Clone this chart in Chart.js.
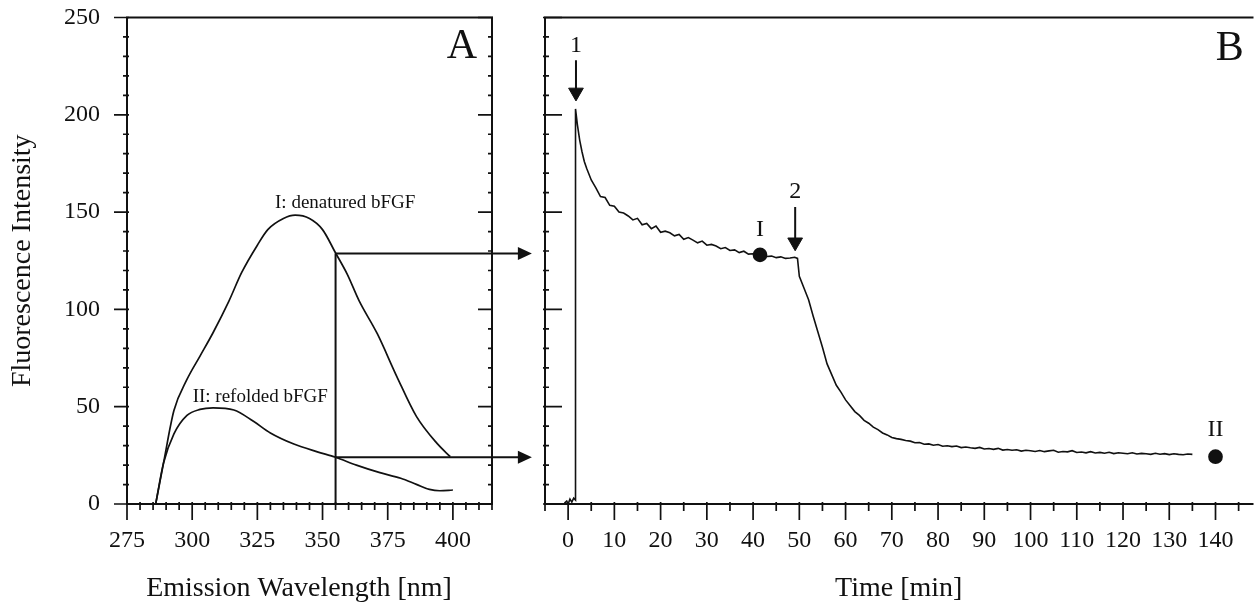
<!DOCTYPE html>
<html>
<head>
<meta charset="utf-8">
<script src="https://cdn.jsdelivr.net/npm/chart.js@4.4.1/dist/chart.umd.min.js"></script>
<style>
  html, body { margin: 0; padding: 0; background: #fff; overflow: hidden; width: 1259px; height: 605px; }
  canvas { position: absolute; left: 0; top: 0; }
</style>
</head>
<body>
<canvas id="panelB" width="1262" height="605"></canvas>
<canvas id="panelA" width="560" height="605"></canvas>
<script>
// ---------------- Panel A data : emission spectra ----------------
const wavelengthTicks = [275, 300, 325, 350, 375, 400];
const intensityTicks  = [0, 50, 100, 150, 200, 250];

const denaturedNm  = [286, 289, 293, 298, 303, 308, 314, 319, 325, 329, 335, 339.5, 345, 350, 355, 359.5, 364, 371, 378.5, 386, 394, 399];
const denaturedVal = [0, 21, 48, 64, 76, 88, 104, 119, 133, 141, 146.7, 148.4, 146.7, 141, 129, 118, 104.5, 87.5, 65.5, 45, 31, 24.3];

const refoldedNm  = [286, 289, 293, 298, 303, 308, 316, 323.5, 330, 339, 348, 355, 363, 372, 380, 386, 391, 395, 400];
const refoldedVal = [0, 21, 36, 45.5, 48.6, 49.4, 48.3, 42.5, 36.5, 30.8, 26.8, 24, 20, 16.1, 13.2, 10.1, 7.5, 6.8, 7.2];

const cutWavelength = 355;          // nm at which the kinetics were followed
const cutIntensity  = [128.7, 24];  // I (denatured) and II (refolded) at 355 nm
const arrowTipNm    = 430.3;        // arrow tips pointing into panel B

const notesAText = ['A', 'I: denatured bFGF', 'II: refolded bFGF'];
const notesAX    = [403.5, 358.7, 326.1];
const notesAY    = [234.8, 154.7, 55.1];

// ---------------- Panel B data : refolding kinetics ----------------
const timeTicks = [0, 10, 20, 30, 40, 50, 60, 70, 80, 90, 100, 110, 120, 130, 140];

const timeMin = [-0.8, -0.3, 0, 0.4, 0.8, 1.2, 1.6, 1.6, 2, 2.5, 3, 3.5, 4, 5, 6, 7, 8, 9,
  10, 11, 12, 13, 14, 15, 16, 17, 18, 19, 20, 21, 22, 23, 24, 25, 26, 27, 28, 29,
  30, 31, 32, 33, 34, 35, 36, 37, 38, 39, 40, 41, 42, 43, 44, 45, 46, 47, 48, 49, 49.6,
  50, 51, 52, 53, 54, 55, 56, 57, 58, 59, 60, 61, 62, 63, 64, 65, 66, 67, 68, 69,
  70, 71, 72, 73, 74, 75, 76, 77, 78, 79, 80, 81, 82, 83, 84, 85, 86, 87, 88, 89,
  90, 91, 92, 93, 94, 95, 96, 97, 98, 99, 100, 101, 102, 103, 104, 105, 106, 107, 108, 109,
  110, 111, 112, 113, 114, 115, 116, 117, 118, 119, 120, 121, 122, 123, 124, 125, 126, 127, 128, 129,
  130, 131, 132, 133, 134, 135];
const kineticVal = [0.5, 1.5, 0, 2.5, 1, 3, 2, 203, 195, 187, 181, 176, 172.5, 166.5, 162.5, 158, 157.5, 153.5,
  153, 150, 149.5, 148, 146, 146.8, 143.5, 144.2, 141.5, 142.8, 139.6, 140.2, 139.4, 137.8, 138.5, 136, 136.9, 135.6, 134.2, 135.1,
  133, 133.4, 132.6, 131.2, 131.8, 130.3, 130.6, 129.2, 129.9, 128.4, 128.6, 127.7, 128.2, 127.2, 127.4, 126.6, 127.0, 126.2, 126.4, 126.8, 126.2,
  117, 111, 105, 96.5, 88.5, 80.5, 72, 66.5, 61, 57.5, 53.5, 50.5, 47.5, 45.5, 43, 41.5, 39.5, 38.2, 36.5, 35.5,
  34.2, 33.6, 33.2, 32.6, 32.3, 31.5, 31.6, 30.7, 30.9, 30.2, 30.6, 29.7, 29.9, 29.5, 29.8, 29.0, 29.3, 28.9, 28.6, 29.1,
  28.3, 28.5, 28.1, 28.6, 27.7, 28.0, 27.6, 27.9, 27.2, 27.6, 27.4, 27.0, 27.5, 26.9, 27.3, 27.6, 26.6, 27.0, 26.8, 27.4,
  26.5, 26.7, 26.3, 26.9, 26.2, 26.5, 26.1, 26.6, 25.9, 26.3, 26.1, 25.8, 26.3, 25.7, 26.0, 25.8, 25.5, 26.1, 25.6, 25.9,
  25.4, 25.8, 25.5, 25.3, 25.7, 25.5];

const sampleNames    = ['I', 'II'];
const sampleTime     = [41.5, 140];
const sampleVal      = [128, 24.3];
const sampleLabelVal = [140.7, 38];

const additionNames    = ['1', '2'];
const additionTime     = [1.7, 49.1];
const additionTop      = [228, 152.6];
const additionHead     = [211.5, 134.5];
const additionLabelVal = [235.6, 160.3];

const panelBName = 'B';
const panelBNameX = 143.1;
const panelBNameY = 233.9;

// ---------------- styling ----------------
const INK = '#111';
const SERIF = "'Liberation Serif', 'Times New Roman', Times, serif";
Chart.defaults.font.family = SERIF;
Chart.defaults.color = INK;

function makeFramePlugin(cfg) {
  return {
    id: 'frame',
    afterDatasetsDraw(chart) {
      const { ctx, chartArea: a } = chart;
      const xs = chart.scales.x, ys = chart.scales.y;
      ctx.save();
      ctx.strokeStyle = INK;
      ctx.lineWidth = 2;
      ctx.beginPath();
      const sides = cfg.sides;
      if (sides.includes('top'))    { ctx.moveTo(a.left - 1, a.top);    ctx.lineTo(a.right + 1, a.top); }
      if (sides.includes('bottom')) { ctx.moveTo(a.left - 1, a.bottom); ctx.lineTo(a.right + 1, a.bottom); }
      if (sides.includes('left'))   { ctx.moveTo(a.left, a.top - 1);    ctx.lineTo(a.left, a.bottom + 1); }
      if (sides.includes('right'))  { ctx.moveTo(a.right, a.top - 1);   ctx.lineTo(a.right, a.bottom + 1); }
      ctx.stroke();
      ctx.lineWidth = 1.7;
      ctx.beginPath();
      for (const m of cfg.marks) {
        const sc = m.side === 'bottom' ? xs : ys;
        let vals = m.at;
        if (!vals) {
          vals = [];
          for (let v = Math.ceil(sc.min / m.step) * m.step; v <= sc.max + 1e-9; v += m.step) vals.push(v);
        }
        for (const v of vals) {
          const p = sc.getPixelForValue(v);
          if (m.side === 'left')  { ctx.moveTo(a.left - m.out, p);  ctx.lineTo(a.left + m.inn, p); }
          if (m.side === 'right') { ctx.moveTo(a.right - m.inn, p); ctx.lineTo(a.right + m.out, p); }
          if (m.side === 'bottom'){ ctx.moveTo(p, a.bottom - m.inn); ctx.lineTo(p, a.bottom + m.out); }
        }
      }
      ctx.stroke();
      ctx.restore();
    }
  };
}

function makeNotesPlugin(items) {
  return {
    id: 'notes',
    afterDatasetsDraw(chart) {
      const { ctx } = chart;
      const xs = chart.scales.x, ys = chart.scales.y;
      ctx.save();
      ctx.fillStyle = INK;
      ctx.textAlign = 'center';
      ctx.textBaseline = 'middle';
      for (const n of items) {
        ctx.font = n.size + 'px ' + SERIF;
        ctx.fillText(n.text, xs.getPixelForValue(n.x), ys.getPixelForValue(n.y));
      }
      ctx.restore();
    }
  };
}

// arrow heads at the end of the transfer lines (they lie outside panel A's plot area)
function makeHeadsPlugin(tipX, levels) {
  return {
    id: 'heads',
    afterDatasetsDraw(chart) {
      const { ctx } = chart;
      const xs = chart.scales.x, ys = chart.scales.y;
      ctx.save();
      ctx.fillStyle = INK;
      for (const lv of levels) {
        const px = xs.getPixelForValue(tipX), py = ys.getPixelForValue(lv);
        ctx.beginPath();
        ctx.moveTo(px, py);
        ctx.lineTo(px - 14, py - 6.5);
        ctx.lineTo(px - 14, py + 6.5);
        ctx.closePath();
        ctx.fill();
      }
      ctx.restore();
    }
  };
}

const pts = (xsArr, ysArr) => xsArr.map((x, i) => ({ x: x, y: ysArr[i] }));

function yScale(showLabels, width, title) {
  return {
    type: 'linear', min: 0, max: 250,
    afterBuildTicks: s => { s.ticks = intensityTicks.map(v => ({ value: v })); },
    afterFit: s => { s.width = width; },
    grid: { display: false, drawTicks: true, tickLength: 27 }, border: { display: false },
    ticks: { display: showLabels, padding: 0, font: { size: 24 }, color: INK },
    title: title ? { display: true, text: title, font: { size: 28 }, color: INK, padding: { top: 6, bottom: 0 } } : { display: false }
  };
}

function xScale(min, max, tickArr, title) {
  return {
    type: 'linear', min: min, max: max,
    afterBuildTicks: s => { s.ticks = tickArr.map(v => ({ value: v })); },
    afterFit: s => { s.height = 101; },
    grid: { display: false, drawTicks: true, tickLength: 22 }, border: { display: false },
    ticks: { padding: 0, font: { size: 24 }, color: INK, maxRotation: 0 },
    title: { display: true, text: title, font: { size: 28 }, color: INK, padding: { top: 0, bottom: 0 } }
  };
}

const lineDs = (data, extra) => Object.assign({
  data: data, borderColor: INK, backgroundColor: INK, borderWidth: 1.7,
  pointRadius: 0, fill: false, tension: 0
}, extra || {});

// ---------------- Panel A chart ----------------
const arrowDatasetsA = cutIntensity.map(level => lineDs(
  [{ x: cutWavelength, y: level }, { x: arrowTipNm - 4, y: level }],
  { borderWidth: 2, clip: false }));

new Chart(document.getElementById('panelA'), {
  type: 'line',
  data: {
    datasets: [
      lineDs(pts(denaturedNm, denaturedVal), { cubicInterpolationMode: 'monotone' }),
      lineDs(pts(refoldedNm, refoldedVal), { cubicInterpolationMode: 'monotone' }),
      lineDs([{ x: cutWavelength, y: 0 }, { x: cutWavelength, y: cutIntensity[0] }], { borderWidth: 2 }),
      ...arrowDatasetsA
    ]
  },
  options: {
    responsive: false, animation: false, devicePixelRatio: 1,
    layout: { padding: { top: 17.5, right: 68, bottom: 0, left: 0 } },
    scales: {
      x: xScale(275, 415, wavelengthTicks, 'Emission Wavelength [nm]   '),
      y: yScale(true, 127, 'Fluorescence Intensity')
    },
    plugins: { legend: { display: false }, tooltip: { enabled: false } }
  },
  plugins: [
    makeFramePlugin({
      sides: ['top', 'left', 'bottom', 'right'],
      marks: [
        { side: 'left', at: intensityTicks, out: 13, inn: 0 },
        { side: 'left', step: 10, out: 4, inn: 2 },
        { side: 'right', at: intensityTicks, out: 0, inn: 14 },
        { side: 'right', step: 10, out: 1, inn: 4 },
        { side: 'bottom', at: wavelengthTicks, out: 16, inn: 0 },
        { side: 'bottom', step: 5, out: 6, inn: 2 }
      ]
    }),
    makeHeadsPlugin(arrowTipNm, cutIntensity),
    makeNotesPlugin(notesAText.map((t, i) => ({ text: t, x: notesAX[i], y: notesAY[i], size: i === 0 ? 42 : 19 })))
  ]
});

// ---------------- Panel B chart ----------------
const arrowDatasetsB = additionTime.map((t, i) => lineDs(
  [{ x: t, y: additionTop[i] }, { x: t, y: additionHead[i] }],
  { borderWidth: 2, pointRadius: [0, 8.5], pointStyle: 'triangle', pointRotation: 180,
    pointBackgroundColor: INK, pointBorderColor: INK, pointBorderWidth: 1, clip: false }));

const notesB = [];
additionNames.forEach((n, i) => notesB.push({ text: n, x: additionTime[i], y: additionLabelVal[i], size: 24 }));
sampleNames.forEach((n, i) => notesB.push({ text: n, x: sampleTime[i], y: sampleLabelVal[i], size: 24 }));
notesB.push({ text: panelBName, x: panelBNameX, y: panelBNameY, size: 42 });

new Chart(document.getElementById('panelB'), {
  type: 'line',
  data: {
    datasets: [
      lineDs(pts(timeMin, kineticVal), { borderWidth: 1.6 }),
      lineDs(pts(sampleTime, sampleVal), { showLine: false, pointRadius: 6.5, pointBackgroundColor: INK, pointBorderColor: INK, clip: false }),
      ...arrowDatasetsB
    ]
  },
  options: {
    responsive: false, animation: false, devicePixelRatio: 1,
    layout: { padding: { top: 17.5, right: 0, bottom: 0, left: 0 } },
    scales: {
      x: xScale(-5, 148, timeTicks, 'Time [min]'),
      y: yScale(false, 545, null)
    },
    plugins: { legend: { display: false }, tooltip: { enabled: false } }
  },
  plugins: [
    makeFramePlugin({
      sides: ['top', 'left', 'bottom'],
      marks: [
        { side: 'left', at: intensityTicks, out: 0, inn: 17 },
        { side: 'left', step: 10, out: 2, inn: 4 },
        { side: 'bottom', at: timeTicks, out: 16, inn: 0 },
        { side: 'bottom', step: 5, out: 7, inn: 2 }
      ]
    }),
    makeNotesPlugin(notesB)
  ]
});
</script>
</body>
</html>
